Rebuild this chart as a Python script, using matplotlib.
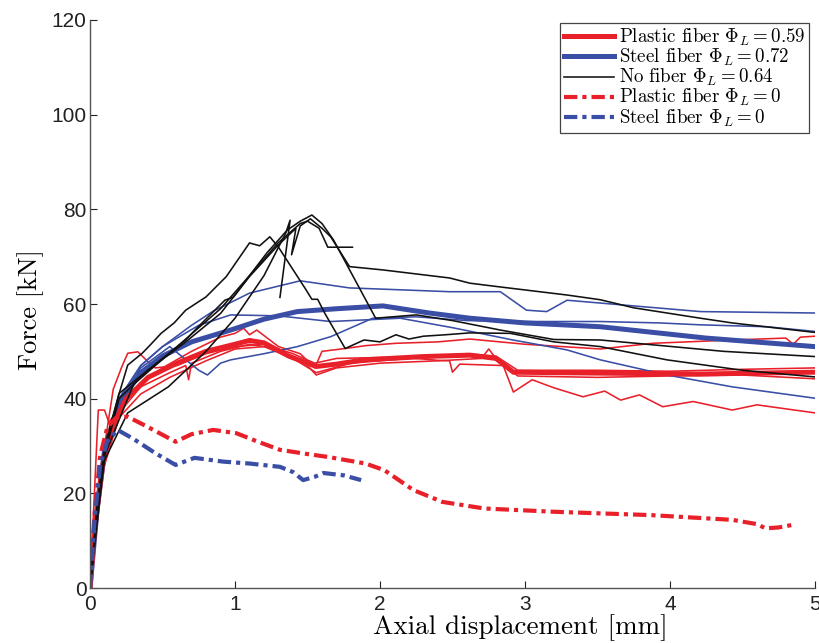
import matplotlib
matplotlib.use("Agg")
import matplotlib.pyplot as plt

plt.rcParams["mathtext.fontset"] = "cm"
plt.rcParams["font.family"] = ["Liberation Sans", "DejaVu Sans"]

RED, BLUE, BLACK = "#e8202a", "#3a4ea6", "#111111"

# ---- plastic fiber, Phi_L = 0.59 (thin = specimens, thick = mean) ----
r1_x = [0, 0.03, 0.057, 0.1, 0.13, 0.2, 0.35, 0.5, 0.7, 0.9, 1.0, 1.06, 1.1, 1.15, 1.3, 1.45, 1.55, 1.6, 1.76, 1.9, 2.11, 2.4, 2.62, 3.0, 3.52, 3.88, 4.43, 4.8, 4.85, 4.9, 5.0]
r1_y = [0, 20, 37.6, 37.6, 35, 38, 43, 46.5, 50, 53, 53.8, 54.9, 53.5, 54.5, 51, 49.5, 46.5, 50, 50.6, 51.2, 51.7, 52.0, 52.6, 51.5, 50.5, 51.7, 52.4, 52.8, 51.5, 53, 53.2]
r2_x = [0, 0.04, 0.1, 0.16, 0.22, 0.26, 0.33, 0.4, 0.45, 0.6, 0.8, 1.0, 1.2, 1.4, 1.55, 1.7, 2.14, 2.4, 2.48, 2.5, 2.55, 2.85, 2.92, 3.05, 3.2, 3.4, 3.55, 3.66, 3.79, 3.95, 4.16, 4.43, 4.6, 5.0]
r2_y = [0, 15, 30, 42, 46.8, 49.6, 49.9, 47.8, 46.5, 47, 49.5, 51, 51.5, 49.5, 47.5, 48.5, 48.8, 48.1, 48, 45.6, 47.3, 47, 41.4, 44, 42.3, 40.4, 41.6, 39.7, 40.8, 38.3, 39.4, 37.6, 38.7, 37]
r3_x = [0, 0.05, 0.1, 0.2, 0.35, 0.55, 0.66, 0.68, 0.7, 0.9, 1.1, 1.3, 1.5, 1.56, 1.7, 2.0, 2.4, 2.7, 2.75, 2.8, 2.95, 3.5, 4.0, 4.5, 5.0]
r3_y = [0, 15, 27, 37, 42.5, 45.5, 47, 44, 47.5, 50, 51.5, 50.5, 47, 45, 46.5, 47.5, 48, 48.5, 50.5, 48.5, 44.8, 44.5, 44.8, 45, 44.2]
r4_x = [0, 0.05, 0.1, 0.2, 0.35, 0.55, 0.8, 1.0, 1.2, 1.4, 1.56, 1.8, 2.2, 2.6, 2.8, 2.95, 3.5, 4.0, 4.5, 5.0]
r4_y = [0, 14, 26, 36, 41, 44.5, 48, 50.5, 51, 48.5, 45.5, 47.5, 48.5, 49.5, 49, 46, 46, 45.8, 46.2, 46.5]
rm_x = [0, 0.03, 0.08, 0.15, 0.25, 0.4, 0.6, 0.8, 1.0, 1.1, 1.2, 1.37, 1.56, 1.7, 1.89, 2.3, 2.62, 2.8, 2.92, 3.2, 3.52, 4.2, 5.0]
rm_y = [0, 12, 25, 34, 40, 44.5, 47.5, 50, 51.5, 52.3, 51.8, 49, 46.8, 47.3, 48.2, 48.9, 49.2, 48.5, 45.6, 45.5, 45.4, 45.2, 45.6]

# ---- steel fiber, Phi_L = 0.72 ----
s1_x = [0, 0.05, 0.1, 0.2, 0.35, 0.5, 0.7, 0.85, 1.1, 1.45, 1.79, 2.14, 2.48, 2.83, 2.95, 3.01, 3.15, 3.29, 3.52, 4.21, 5.0]
s1_y = [0, 18, 30, 40, 47, 51, 55.5, 58.5, 62.3, 64.9, 63.4, 63, 62.6, 62.6, 60, 58.7, 58.4, 60.8, 60.2, 58.4, 58.1]
s2_x = [0, 0.05, 0.1, 0.2, 0.35, 0.5, 0.75, 0.97, 1.3, 1.66, 2.14, 2.5, 2.9, 3.29, 3.52, 3.98, 4.43, 5.0]
s2_y = [0, 17, 29, 40, 47, 51, 55.5, 57.7, 57.5, 56.3, 57, 55, 52.5, 50.3, 48.2, 45, 42.5, 40.1]
s3_x = [0, 0.05, 0.1, 0.2, 0.35, 0.55, 0.65, 0.75, 0.81, 0.9, 0.97, 1.2, 1.43, 1.66, 1.95, 2.25, 2.6, 3.01, 3.52, 3.93, 4.21, 4.67, 5.0]
s3_y = [0, 16, 28, 39, 46.5, 51, 48.5, 46, 45, 47.5, 48.2, 49.5, 51, 53.1, 57, 57.3, 56.5, 56.3, 56.3, 56, 55.6, 55.2, 54.2]
sm_x = [0, 0.05, 0.1, 0.2, 0.35, 0.5, 0.7, 0.97, 1.2, 1.43, 1.7, 2.02, 2.34, 2.62, 3.0, 3.52, 4.25, 5.0]
sm_y = [0, 17, 29, 39, 45.5, 49, 52, 54.5, 56.8, 58.4, 59, 59.6, 58.1, 57, 56, 55.2, 52.8, 51]

# ---- no fiber, Phi_L = 0.64 ----
b1_x = [0, 0.05, 0.1, 0.2, 0.26, 0.36, 0.42, 0.49, 0.58, 0.66, 0.8, 0.94, 1.1, 1.17, 1.24, 1.3, 1.49, 1.53, 1.57, 1.62, 1.76, 1.89, 2.0, 2.11, 2.2, 2.3, 2.45, 2.62, 2.9, 3.2, 3.52, 3.98, 4.5, 5.0]
b1_y = [0, 18, 30, 41, 47.1, 49.6, 51.5, 53.8, 56, 58.7, 61.5, 65.8, 72.9, 72.3, 74.2, 72, 63, 61, 61, 58, 50.6, 52.4, 52, 53.5, 52.6, 53.2, 53.5, 53.9, 53.8, 52, 51, 48.2, 46, 44.6]
b2_x = [0, 0.05, 0.1, 0.26, 0.54, 0.8, 1.0, 1.2, 1.35, 1.38, 1.31]
b2_y = [0, 16, 27, 37, 42.5, 50, 57, 66, 75, 77.7, 61.4]
b3_x = [0, 0.05, 0.1, 0.2, 0.43, 0.66, 0.74, 0.93, 0.99, 1.1, 1.22, 1.36, 1.45, 1.53, 1.6, 1.68, 1.97, 2.25, 2.5, 2.83, 3.2, 3.52, 4.37, 5.0]
b3_y = [0, 17, 29, 41.1, 46.8, 52.4, 55, 60.8, 61.5, 66, 70.8, 75.6, 77.5, 78.8, 77, 73.5, 57, 57.7, 56.5, 54.5, 52.5, 52.4, 50, 48.9]
b4_x = [0, 0.05, 0.1, 0.2, 0.4, 0.66, 0.9, 1.1, 1.3, 1.42, 1.39, 1.45, 1.52, 1.6, 1.66, 1.79, 2.02, 2.48, 2.62, 2.83, 3.29, 3.52, 3.75, 4.21, 4.43, 5.0]
b4_y = [0, 17, 28, 40, 46, 52, 58, 65.8, 72.5, 76, 70.4, 76.5, 78, 76, 74.2, 67.9, 67.2, 65.5, 64.4, 63.6, 61.9, 60.9, 59.2, 57, 56, 54]
b5_x = [0, 0.1, 0.3, 0.6, 0.9, 1.1, 1.3, 1.45, 1.5, 1.58, 1.64, 1.81]
b5_y = [0, 28, 43, 51, 59, 66, 73, 77, 77.5, 76, 72, 72]

# ---- Phi_L = 0 ----
rd_x = [0, 0.03, 0.07, 0.12, 0.18, 0.26, 0.4, 0.59, 0.7, 0.85, 1.01, 1.15, 1.31, 1.5, 1.64, 1.9, 2.03, 2.23, 2.43, 2.72, 3.21, 3.87, 4.43, 4.6, 4.66, 4.75, 4.84]
rd_y = [0, 15, 28, 34, 36, 36.2, 34, 30.9, 32.5, 33.4, 32.7, 31, 29.2, 28.3, 27.7, 26.3, 24.9, 20.7, 18.2, 16.8, 16.1, 15.4, 14.4, 13.5, 12.6, 12.8, 13.3]
bd_x = [0, 0.03, 0.07, 0.12, 0.19, 0.3, 0.45, 0.59, 0.72, 0.92, 1.1, 1.31, 1.4, 1.47, 1.55, 1.61, 1.75, 1.87]
bd_y = [0, 14, 26, 31, 33.4, 31.5, 28.5, 26, 27.5, 26.7, 26.3, 25.6, 24.5, 22.8, 23.5, 24.3, 23.8, 22.8]

fig = plt.figure(figsize=(8.2, 6.43), dpi=100)
ax = fig.add_axes([0.1098, 0.0855, 0.884, 0.8834])

thin = 1.15
for xs, ys in [(r1_x, r1_y), (r2_x, r2_y), (r3_x, r3_y), (r4_x, r4_y)]:
    ax.plot(xs, ys, color=RED, lw=thin)
for xs, ys in [(s1_x, s1_y), (s2_x, s2_y), (s3_x, s3_y)]:
    ax.plot(xs, ys, color=BLUE, lw=thin)
ax.plot(sm_x, sm_y, color=BLUE, lw=3.6, label=r"Steel fiber $\Phi_L = 0.72$")
ax.plot(rm_x, rm_y, color=RED, lw=3.6, label=r"Plastic fiber $\Phi_L = 0.59$")
for i, (xs, ys) in enumerate([(b1_x, b1_y), (b2_x, b2_y), (b3_x, b3_y), (b4_x, b4_y), (b5_x, b5_y)]):
    ax.plot(xs, ys, color=BLACK, lw=thin, label=r"No fiber $\Phi_L = 0.64$" if i == 0 else None)
dd = (0, (3.2, 1.2, 1.0, 1.2))
ax.plot(rd_x, rd_y, color=RED, lw=3.0, ls=dd, label=r"Plastic fiber $\Phi_L = 0$")
ax.plot(bd_x, bd_y, color=BLUE, lw=3.0, ls=dd, label=r"Steel fiber $\Phi_L = 0$")

ax.set_xlim(0, 5)
ax.set_ylim(0, 120)
ax.set_xticks(range(0, 6))
ax.set_yticks(range(0, 121, 20))
ax.tick_params(direction="in", length=5, width=0.8, labelsize=15, colors="#222222")
ax.tick_params(axis="x", pad=5)
ax.tick_params(axis="y", pad=2.5)
for s in ["top", "right"]:
    ax.spines[s].set_visible(False)
for s in ["left", "bottom"]:
    ax.spines[s].set_color("#555555")
    ax.spines[s].set_linewidth(1.0)

ax.set_xlabel("Axial displacement [mm]", family="cmr10", fontsize=19.5)
ax.xaxis.set_label_coords(0.593, -0.046)
ax.set_ylabel("Force [kN]", family="cmr10", fontsize=19)
ax.yaxis.set_label_coords(-0.064, 0.49)

h, l = ax.get_legend_handles_labels()
order = [l.index(s) for s in [r"Plastic fiber $\Phi_L = 0.59$", r"Steel fiber $\Phi_L = 0.72$",
                              r"No fiber $\Phi_L = 0.64$", r"Plastic fiber $\Phi_L = 0$",
                              r"Steel fiber $\Phi_L = 0$"]]
leg = ax.legend([h[i] for i in order], [l[i] for i in order], loc="upper right",
                bbox_to_anchor=(0.992, 0.995), prop={"family": "cmr10", "size": 13.6},
                fancybox=False, framealpha=1, edgecolor="#444444", handlelength=2.65,
                handletextpad=0.25, labelspacing=-0.06, borderpad=0.22, borderaxespad=0.0)
leg.get_frame().set_linewidth(0.9)

fig.savefig("out.png", dpi=100)
